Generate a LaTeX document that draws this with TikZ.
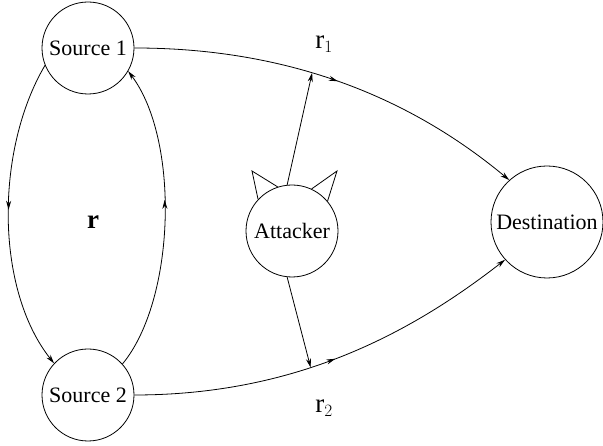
\documentclass[tikz,border=0pt]{standalone}
\usepackage{fontspec}
\setmainfont{Liberation Serif}
\usetikzlibrary{arrows.meta,calc,positioning,decorations.markings}
\tikzset{
	party/.style={draw, circle, line width=0.8pt, inner sep=0pt, minimum size=92pt, font=\fontsize{22}{26}\selectfont},
	link/.style={line width=0.8pt, -{Stealth[length=9pt,width=5pt]}},
	midarrow/.style={postaction={decorate}, decoration={markings, mark=at position #1 with {\arrow{Stealth[length=9pt,width=5pt]}}}}
}
\begin{document}
\begin{tikzpicture}[x=1pt, y=1pt, lbl/.style={font=\fontsize{27}{30}\selectfont}]
		\useasboundingbox (0,0) rectangle (603,446);
		\node[party] (s1) at (88,398) {Source 1};
		\node[party] (s2) at (88,51) {Source 2};
		\node[party] (att) at (292,215) {Attacker};
		\node[party, minimum size=112pt] (dst) at (547,224) {Destination};
		% ears
		\draw[line width=0.8pt] (att.137) -- ($(att.center)+(-40,60)$) -- (att.108);
		\draw[line width=0.8pt] (att.40) -- ($(att.center)+(45,60)$) -- (att.65);
		% sources to destination
		\draw[link, midarrow=0.51] (s1.east) .. controls +(166,0) and +(-90,75) .. coordinate[pos=0.4] (r1pt) (dst.132);
		\draw[link, midarrow=0.51] (s2.east) .. controls +(166,0) and +(-90,-70) .. coordinate[pos=0.4] (r2pt) (dst.222);
		% between the sources
		\draw[link, midarrow=0.48] (s1.202) .. controls +(-50,-85) and +(-59,74) .. (s2.137);
		\draw[link, midarrow=0.56] (s2.42) .. controls +(53,64) and +(52,-69) .. (s1.330);
		% attacker taps
		\draw[link] (att.96) -- (r1pt);
		\draw[link] (att.264) -- (r2pt);
		\node[lbl] (lr1) at (324,402) {$\mathrm{r}_1$};
		\node[lbl] (lr2) at (324,38) {$\mathrm{r}_2$};
		\node[lbl] (lr) at (93,224) {$\mathbf{r}$};
	\end{tikzpicture}
\end{document}
